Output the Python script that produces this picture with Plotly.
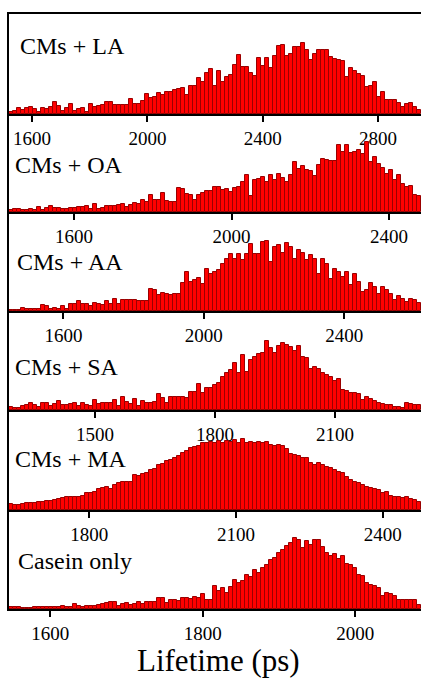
import plotly.graph_objects as go

panel_names = ["CMs + LA", "CMs + OA", "CMs + AA", "CMs + SA", "CMs + MA", "Casein only"]

la_counts = [5,10,18,12,18,20,15,5,18,15,20,36,25,10,18,30,10,15,18,5,
             30,20,24,28,35,37,28,28,28,28,44,30,30,38,60,48,52,64,57,66,
             66,72,75,78,58,83,85,108,95,124,135,85,128,95,110,118,148,178,142,142,
             122,115,168,145,167,138,175,205,207,175,180,200,202,213,192,162,180,193,193,192,
             170,165,162,160,110,137,128,120,115,82,85,95,52,65,42,42,42,34,22,30,
             32,22,12]
oa_counts = [5,10,9,7,5,8,7,15,5,12,17,13,13,9,9,13,12,15,15,18,
             9,23,9,13,17,17,17,20,23,15,20,27,23,35,30,50,35,35,57,33,
             30,29,73,69,55,50,35,50,58,62,63,75,75,65,68,59,73,75,90,110,
             47,95,100,105,90,110,95,113,103,90,112,150,130,137,125,122,107,140,158,155,
             153,153,200,180,202,177,180,185,173,210,150,165,145,133,115,125,97,110,83,75,
             77,50,47]
aa_counts = [2,2,2,10,5,7,7,7,17,14,7,10,7,14,7,20,20,29,20,20,
             14,24,22,17,29,22,37,22,32,34,32,34,29,29,29,67,64,47,54,52,
             49,52,50,84,117,87,92,100,82,127,112,117,124,142,157,170,157,172,152,172,
             202,172,172,207,210,147,192,197,174,204,192,157,182,174,152,167,157,112,157,142,
             97,127,117,102,117,77,112,87,57,62,84,72,52,72,62,52,32,44,37,27,
             37,32,24]
sa_counts = [8,5,5,12,14,20,14,10,22,20,12,18,28,15,15,18,20,12,20,16,
             12,30,18,22,22,22,30,12,40,25,18,32,12,28,20,20,25,48,35,20,
             38,38,38,38,37,54,54,77,50,67,65,75,82,98,112,120,142,112,165,115,
             150,160,167,170,208,185,170,192,200,195,190,177,192,160,155,122,130,122,110,105,
             100,88,92,60,58,50,52,48,30,40,32,28,20,18,15,14,8,10,5,22,
             18,16,15]
ma_counts = [18,15,15,17,20,22,22,24,25,27,28,30,32,37,38,38,40,40,42,50,
             52,53,62,65,68,62,75,82,85,85,83,105,103,108,110,120,122,135,137,148,
             150,155,162,170,178,185,190,192,200,202,205,202,207,202,208,205,210,202,213,200,
             205,202,205,200,205,195,192,195,192,182,168,165,162,155,155,140,135,142,135,130,
             125,120,115,110,98,90,85,82,75,70,67,62,60,50,55,42,40,38,35,38,
             32,30,25]
casein_counts = [6,6,5,4,4,3,5,6,6,6,5,5,6,10,6,6,15,8,7,8,
                 8,10,13,16,18,20,20,10,15,18,13,16,20,15,22,20,20,32,32,18,
                 26,28,23,32,33,30,36,33,46,28,26,68,53,63,48,66,86,78,83,103,
                 96,116,108,123,133,148,153,168,178,188,198,213,206,183,203,193,208,208,186,168,
                 158,166,150,158,136,133,123,103,98,78,73,68,63,38,48,46,40,26,26,28,
                 28,28,13]

all_counts = [la_counts, oa_counts, aa_counts, sa_counts, ma_counts, casein_counts]

# histogram bins (ps): first bin edge and bin width per panel
bin_starts = [1520, 1435, 1445, 1285, 1636, 1546]
bin_widths = [13.874, 10.155, 11.398, 10.0, 8.175, 5.243]
tick_values = [[1600, 2000, 2400, 2800], [1600, 2000, 2400], [1600, 2000, 2400],
               [1500, 1800, 2100], [1800, 2100, 2400], [1600, 1800, 2000]]
y_maxes = [300, 294, 297, 297, 300, 297]

W, H = 421, 678
ml, mr, mt, mb = 9, 0, 14, 69
plot_h = H - mt - mb
plot_w = W - ml - mr
tops_px = [14, 114, 212, 311, 410, 510]
bases_px = [114, 212, 311, 410, 510, 609]
label_x_px = [18, 13, 15, 13, 13, 16]
label_base_px = [52.7, 171.7, 269.3, 374.3, 466, 568]

def py(px):
    return (H - mb - px) / plot_h

def pxx(px):
    return (px - ml) / plot_w

FONT = "Liberation Serif, Times New Roman, serif"

fig = go.Figure()
layout = dict(width=W, height=H,
              margin=dict(l=ml, r=mr, t=mt, b=mb, pad=0, autoexpand=False),
              paper_bgcolor="white", plot_bgcolor="white", showlegend=False,
              bargap=0, annotations=[])

for i, counts in enumerate(all_counts):
    n = len(counts)
    centers = [bin_starts[i] + (k + 0.5) * bin_widths[i] for k in range(n)]
    x_end = bin_starts[i] + n * bin_widths[i]
    xa = "x" if i == 0 else f"x{i+1}"
    ya = "y" if i == 0 else f"y{i+1}"
    fig.add_trace(go.Bar(x=centers, y=counts, width=bin_widths[i], xaxis=xa, yaxis=ya,
                         marker=dict(color="#FF0000", line=dict(color="#9a0000", width=1)),
                         hoverinfo="x+y"))
    xk = "xaxis" if i == 0 else f"xaxis{i+1}"
    yk = "yaxis" if i == 0 else f"yaxis{i+1}"
    layout[xk] = dict(domain=[0, 1], anchor=ya, range=[bin_starts[i], x_end],
                      tickvals=tick_values[i],
                      ticks="outside", ticklen=6, tickwidth=1.5, tickcolor="black",
                      showline=True, linecolor="black", linewidth=1.5, automargin=False,
                      mirror=(i == 0), showgrid=False, zeroline=False,
                      tickfont=dict(family=FONT, size=19, color="black"))
    layout[yk] = dict(domain=[py(bases_px[i]), py(tops_px[i])], anchor=xa,
                      range=[0, y_maxes[i]], showticklabels=False, ticks="",
                      showline=True, linecolor="black", linewidth=1.5, automargin=False,
                      showgrid=False, zeroline=False)
    layout["annotations"].append(dict(text=panel_names[i], xref="paper", yref="paper",
                                      x=pxx(label_x_px[i]), y=py(label_base_px[i] - 7),
                                      xanchor="left", yanchor="middle", showarrow=False,
                                      font=dict(family=FONT, size=24, color="black")))

layout["annotations"].append(dict(text="Lifetime (ps)", xref="paper", yref="paper",
                                  x=pxx(218), y=py(660), xanchor="center", yanchor="middle",
                                  showarrow=False, font=dict(family=FONT, size=31, color="black")))

fig.update_layout(**layout)
fig.write_html("out.html", config={"displayModeBar": False},
               post_script="document.body.style.margin='0';document.body.style.overflow='hidden';")
